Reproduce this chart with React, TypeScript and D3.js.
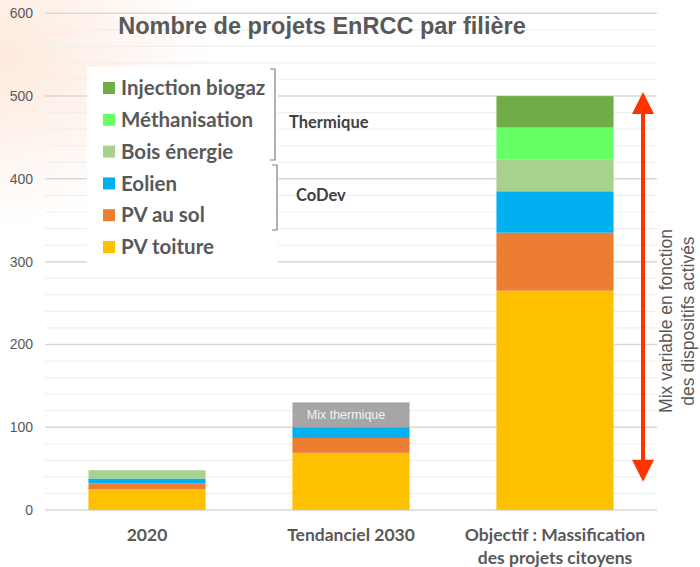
import * as d3 from 'd3'

// scenario categories (x axis)
const categories = ['2020', 'Tendanciel 2030', 'Objectif']
const categoryLabels = [['2020'], ['Tendanciel 2030'], ['Objectif : Massification', 'des projets citoyens']]

// number of projects per filière, one value per category
const pvToiture = [25, 69, 265]
const pvSol = [7, 18, 70]
const eolien = [6, 13, 50]
const mixThermique = [0, 30, 0]
const boisEnergie = [10, 0, 38]
const methanisation = [0, 0, 39]
const injectionBiogaz = [0, 0, 38]

const seriesKeys = ['pvToiture', 'pvSol', 'eolien', 'mixThermique', 'boisEnergie', 'methanisation', 'injectionBiogaz']
const seriesColors: Record<string, string> = {
  pvToiture: '#FFC000',
  pvSol: '#ED7D31',
  eolien: '#00B0F0',
  mixThermique: '#A6A6A6',
  boisEnergie: '#A9D18E',
  methanisation: '#66FF66',
  injectionBiogaz: '#70AD47',
}

// legend, top to bottom
const legendKeys = ['injectionBiogaz', 'methanisation', 'boisEnergie', 'eolien', 'pvSol', 'pvToiture']
const legendLabels = ['Injection biogaz', 'Méthanisation', 'Bois énergie', 'Eolien', 'PV au sol', 'PV toiture']

const yTicks = [0, 100, 200, 300, 400, 500, 600]
const yMinorTicks = d3.range(0, 601, 20)

const W = 700
const H = 567
const labelFont = 'Lato, "Open Sans", sans-serif'
const arialFont = '"Liberation Sans", Arial, sans-serif'
const grey = '#595959'

export default function App() {
  const x = d3.scaleBand<string>()
    .domain(categories)
    .range([45, 657])
    .paddingInner(0.426)
    .paddingOuter(0.213)

  const y = d3.scaleLinear().domain([0, 600]).range([510, 13.3])

  const rows = categories.map((c, i) => ({
    category: c,
    pvToiture: pvToiture[i],
    pvSol: pvSol[i],
    eolien: eolien[i],
    mixThermique: mixThermique[i],
    boisEnergie: boisEnergie[i],
    methanisation: methanisation[i],
    injectionBiogaz: injectionBiogaz[i],
  }))

  const stacked = d3.stack<any>().keys(seriesKeys)(rows)

  const arrowX = 643
  const arrowTop = y(505)
  const arrowBottom = y(34)
  const head = 22

  const legendY0 = 88
  const legendStep = 31.8

  return (
    <svg width={W} height={H} style={{ position: 'absolute', left: 0, top: 0 }}>
      <defs>
        <radialGradient id="bg" cx="0" cy="0.1" r="0.3">
          <stop offset="0%" stopColor="#fde9dc" />
          <stop offset="100%" stopColor="#ffffff" />
        </radialGradient>
      </defs>
      <rect width={W} height={H} fill="#fff" />
      <rect width={W} height={H} fill="url(#bg)" />

      {/* grid */}
      {yMinorTicks.map(t => (
        <line key={'m' + t} x1={45} x2={657} y1={y(t)} y2={y(t)}
          stroke={t % 100 === 0 ? '#d9d9d9' : '#efefef'} strokeWidth={t % 100 === 0 ? 1.5 : 1.2} />
      ))}
      {yTicks.map(t => (
        <text key={t} x={33} y={y(t)} dy="0.35em" textAnchor="end"
          fontFamily={arialFont} fontSize={14} fill={grey}>{t}</text>
      ))}

      {/* bars */}
      {stacked.map(s => (
        <g key={s.key} fill={seriesColors[s.key]}>
          {s.map((d, i) => d[1] - d[0] > 0 && (
            <rect key={i} x={x(categories[i])} width={x.bandwidth()}
              y={y(d[1])} height={y(d[0]) - y(d[1])} />
          ))}
        </g>
      ))}
      {stacked.filter(s => s.key === 'mixThermique').map(s => s.map((d, i) => d[1] - d[0] > 0 && (
        <text key={'mt' + i} x={x(categories[i])! + x.bandwidth() / 2 - 5} y={(y(d[0]) + y(d[1])) / 2}
          dy="0.35em" textAnchor="middle" fontFamily={arialFont} fontSize={12.5} fill="#f2f2f2">Mix thermique</text>
      )))}

      {/* x labels */}
      {categoryLabels.map((lines, i) => (
        <text key={i} x={x(categories[i])! + x.bandwidth() / 2} y={541} textAnchor="middle"
          fontFamily={labelFont} fontWeight="bold" fontSize={17.5} fill={grey}>
          {lines.map((l, j) => <tspan key={j} x={x(categories[i])! + x.bandwidth() / 2} dy={j === 0 ? 0 : 23}>{l}</tspan>)}
        </text>
      ))}

      {/* title */}
      <text x={322} y={34} textAnchor="middle" fontFamily={arialFont} fontWeight="bold"
        fontSize={23.5} fill={grey}>Nombre de projets EnRCC par filière</text>

      {/* legend */}
      <rect x={87} y={67} width={191} height={196} fill="#fff" />
      {legendKeys.map((k, i) => (
        <g key={k} transform={`translate(103,${legendY0 + i * legendStep})`}>
          <rect x={0} y={-6} width={12} height={12} fill={seriesColors[k]} />
          <text x={18} dy="0.35em" fontFamily={labelFont} fontWeight="bold" fontSize={20.5} fill={grey}>{legendLabels[i]}</text>
        </g>
      ))}
      <path d="M270,69 H275 V160 H270" fill="none" stroke="#7f7f7f" strokeWidth={1.2} />
      <path d="M272,165 H277 V230 H272" fill="none" stroke="#7f7f7f" strokeWidth={1.2} />
      <text x={289} y={122} dy="0.35em" fontFamily={labelFont} fontWeight="bold" fontSize={16.5} fill="#404040">Thermique</text>
      <text x={296} y={195} dy="0.35em" fontFamily={labelFont} fontWeight="bold" fontSize={16.5} fill="#404040">CoDev</text>

      {/* arrow */}
      <line x1={arrowX} x2={arrowX} y1={arrowTop + head - 2} y2={arrowBottom - head + 2} stroke="#FF3300" strokeWidth={4} />
      <path d={`M${arrowX},${arrowTop} L${arrowX + head / 2},${arrowTop + head} L${arrowX - head / 2},${arrowTop + head} Z`} fill="#FF3300" />
      <path d={`M${arrowX},${arrowBottom} L${arrowX + head / 2},${arrowBottom - head} L${arrowX - head / 2},${arrowBottom - head} Z`} fill="#FF3300" />
      <text transform="translate(666,321) rotate(-90)" textAnchor="middle" fontFamily={arialFont}
        fontSize={17.5} fill={grey}>
        <tspan x={0} dy="0.35em">Mix variable en fonction</tspan>
        <tspan x={0} dy={22}>des dispositifs activés</tspan>
      </text>
    </svg>
  )
}
